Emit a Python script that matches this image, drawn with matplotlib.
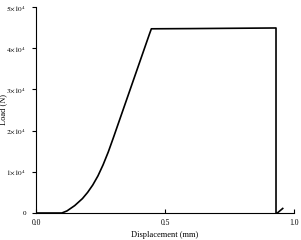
import matplotlib.pyplot as plt
import numpy as np

# displacement (mm) and load (N)
disp = [0.0, 0.05, 0.10, 0.12, 0.15, 0.18, 0.20, 0.22, 0.24, 0.26, 0.28,
        0.30, 0.32, 0.34, 0.36, 0.38, 0.40, 0.42, 0.44, 0.447,
        0.60, 0.75, 0.93, 0.93, 0.935, 0.956]
load = [0, 0, 0, 500, 1800, 3500, 5000, 6800, 9000, 11700, 14800,
        18300, 21900, 25500, 29100, 32700, 36300, 39900, 43500, 44700,
        44750, 44820, 44900, 0, 0, 1100]

yticks = [0, 1e4, 2e4, 3e4, 4e4, 5e4]
ytick_labels = ['0', r'$1{\times}10^4$', r'$2{\times}10^4$', r'$3{\times}10^4$',
                r'$4{\times}10^4$', r'$5{\times}10^4$']
xticks = [0.0, 0.5, 1.0]

plt.rcParams['font.family'] = 'Liberation Serif'
plt.rcParams['mathtext.fontset'] = 'stix'

fig = plt.figure(figsize=(3.01, 2.4), dpi=100)
ax = fig.add_axes([0.1196, 0.1125, 0.8574, 0.8585])
ax.plot(disp, load, color='black', lw=1.2)

ax.set_xlim(0, 1.0)
ax.set_ylim(0, 5e4)
ax.set_xticks(xticks)
ax.set_xticklabels(['0.0', '0.5', '1.0'])
ax.set_yticks(yticks)
ax.set_yticklabels(ytick_labels)
ax.tick_params(axis='x', direction='in', length=3, width=0.8, labelsize=5.5, pad=4)
ax.tick_params(axis='y', direction='out', length=3, width=0.8, labelsize=5.2, pad=4)
ax.spines['top'].set_visible(False)
ax.spines['right'].set_visible(False)
ax.spines['left'].set_linewidth(0.8)
ax.spines['bottom'].set_linewidth(0.8)
ax.set_xlabel('Displacement (mm)', fontsize=6)
ax.set_ylabel('Load (N)', fontsize=6)
ax.xaxis.set_label_coords(0.5, -0.085)
ax.yaxis.set_label_coords(-0.112, 0.5)

fig.savefig('out.png', dpi=100)
